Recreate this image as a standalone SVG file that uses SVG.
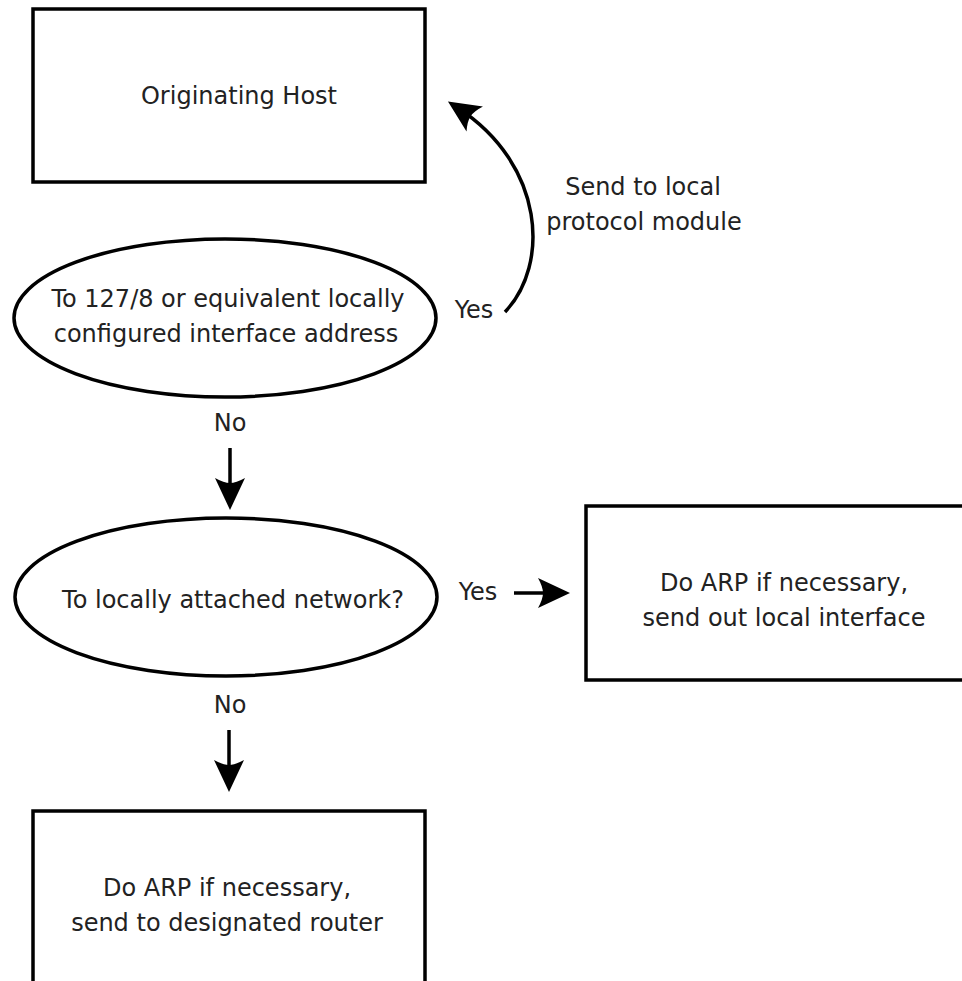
<svg xmlns="http://www.w3.org/2000/svg" width="962" height="981" viewBox="0 0 962 981">
<style>
.shape{fill:#fff;stroke:#000;stroke-width:3.5}
.lbl{font-family:"DejaVu Sans","Liberation Sans",sans-serif;font-size:24px;fill:#222;text-anchor:middle}
.conn{fill:none;stroke:#000;stroke-width:3.5}
</style>
<defs>
<marker id="ah" markerUnits="userSpaceOnUse" viewBox="-34 -17 36 34" markerWidth="36" markerHeight="34" refX="-12" refY="0" orient="auto">
<path d="M0,0 L-32,-15 Q-27,-6 -27,0 Q-27,6 -32,15 Z" fill="#000"/>
</marker>
</defs>
<rect width="962" height="981" fill="#fff"/>
<g id="originating-host">
<rect class="shape" x="33" y="9" width="392" height="173"/>
<text class="lbl" x="239" y="104">Originating Host</text>
</g>
<g id="decision-loopback">
<ellipse class="shape" cx="225" cy="318" rx="211" ry="79"/>
<text class="lbl" x="228" y="307">To 127/8 or equivalent locally</text>
<text class="lbl" x="226" y="342">configured interface address</text>
</g>
<g id="decision-local-net">
<ellipse class="shape" cx="226" cy="597" rx="211" ry="79"/>
<text class="lbl" x="233" y="608">To locally attached network?</text>
</g>
<g id="send-local-interface">
<rect class="shape" x="586" y="506" width="400" height="174"/>
<text class="lbl" x="784" y="591">Do ARP if necessary,</text>
<text class="lbl" x="784" y="626">send out local interface</text>
</g>
<g id="send-router">
<rect class="shape" x="33" y="811" width="392" height="200"/>
<text class="lbl" x="227" y="896">Do ARP if necessary,</text>
<text class="lbl" x="227" y="931">send to designated router</text>
</g>
<g id="connectors">
<path class="conn" d="M505,312 C550,265 545,165 458,108" marker-end="url(#ah)"/>
<text class="lbl" x="474" y="318">Yes</text>
<text class="lbl" x="643" y="195">Send to local</text>
<text class="lbl" x="644" y="230">protocol module</text>
<text class="lbl" x="230" y="431">No</text>
<path class="conn" d="M230,448 L230,498" marker-end="url(#ah)"/>
<text class="lbl" x="478" y="600">Yes</text>
<path class="conn" d="M514,593 L558,593" marker-end="url(#ah)"/>
<text class="lbl" x="230" y="713">No</text>
<path class="conn" d="M229,730 L229,780" marker-end="url(#ah)"/>
</g>
</svg>
